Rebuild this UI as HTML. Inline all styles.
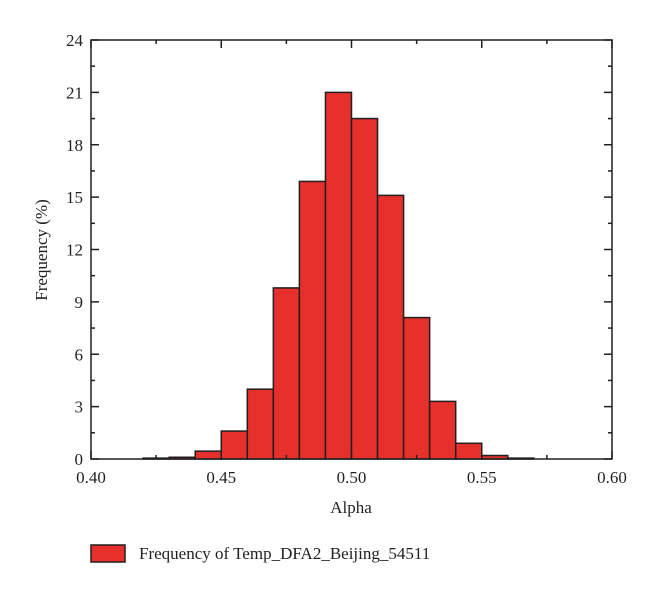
<!DOCTYPE html>
<html><head><meta charset="utf-8"><style>
body{margin:0;background:#fff;}
svg text{font-family:"Liberation Serif",serif;fill:#231f20;}
</style></head><body>
<svg width="660" height="596" viewBox="0 0 660 596">
<g id="bars"></g>
<g id="axes"></g>
<text x="351" y="513" font-size="17" text-anchor="middle">Alpha</text>
<text transform="translate(47,250) rotate(-90)" font-size="17" text-anchor="middle">Frequency (%)</text>
<g>
<rect x="91" y="545" width="34" height="17" fill="#e5302b" stroke="#231f20" stroke-width="1.5"/>
<text x="139" y="559" font-size="17">Frequency of Temp_DFA2_Beijing_54511</text>
</g>
</svg>
<script>
const binStarts=[0.42,0.43,0.44,0.45,0.46,0.47,0.48,0.49,0.50,0.51,0.52,0.53,0.54,0.55,0.56];
const frequencies=[0.05,0.1,0.45,1.6,4.0,9.8,15.9,21.0,19.5,15.1,8.1,3.3,0.9,0.2,0.05];
const xTicks=[0.40,0.45,0.50,0.55,0.60];
const yTicks=[0,3,6,9,12,15,18,21,24];
const binWidth=0.01;
const X0=91,X1=612,Y0=459,Y1=40;
const sx=v=>X0+(v-0.40)/0.20*(X1-X0);
const sy=v=>Y0-(v/24)*(Y0-Y1);
const NS="http://www.w3.org/2000/svg";
const mk=(t,a,p)=>{const e=document.createElementNS(NS,t);for(const k in a)e.setAttribute(k,a[k]);p.appendChild(e);return e;};
const bars=document.getElementById('bars'),axes=document.getElementById('axes');
binStarts.forEach((b,i)=>{
 const r=mk('rect',{x:sx(b),y:sy(frequencies[i]),width:sx(b+binWidth)-sx(b),height:Y0-sy(frequencies[i]),fill:'#e5302b',stroke:'#231f20','stroke-width':1.5},bars);
 
 
});
const frame=mk('rect',{x:X0,y:Y1,width:X1-X0,height:Y0-Y1,fill:'none',stroke:'#231f20','stroke-width':1.5},axes);


xTicks.forEach((t,i)=>{
 const x=sx(t);
 mk('line',{x1:x,y1:Y0,x2:x,y2:Y0-8,stroke:'#231f20','stroke-width':1.5},axes);
 mk('line',{x1:x,y1:Y1,x2:x,y2:Y1+8,stroke:'#231f20','stroke-width':1.5},axes);
 if(i<xTicks.length-1){const m=sx(t+0.025);
  mk('line',{x1:m,y1:Y0,x2:m,y2:Y0-4,stroke:'#231f20','stroke-width':1.5},axes);
  mk('line',{x1:m,y1:Y1,x2:m,y2:Y1+4,stroke:'#231f20','stroke-width':1.5},axes);}
 const tx=mk('text',{x:x,y:Y0+24,'font-size':17,'text-anchor':'middle'},axes);
 tx.textContent=t.toFixed(2);
 
 
});
yTicks.forEach((t,i)=>{
 const y=sy(t);
 mk('line',{x1:X0,y1:y,x2:X0+8,y2:y,stroke:'#231f20','stroke-width':1.5},axes);
 mk('line',{x1:X1,y1:y,x2:X1-8,y2:y,stroke:'#231f20','stroke-width':1.5},axes);
 if(i<yTicks.length-1){const m=sy(t+1.5);
  mk('line',{x1:X0,y1:m,x2:X0+4,y2:m,stroke:'#231f20','stroke-width':1.5},axes);
  mk('line',{x1:X1,y1:m,x2:X1-4,y2:m,stroke:'#231f20','stroke-width':1.5},axes);}
 const tx=mk('text',{x:X0-8,y:y+6,'font-size':17,'text-anchor':'end'},axes);
 tx.textContent=t;
 
 
});
</script>
</body></html>
